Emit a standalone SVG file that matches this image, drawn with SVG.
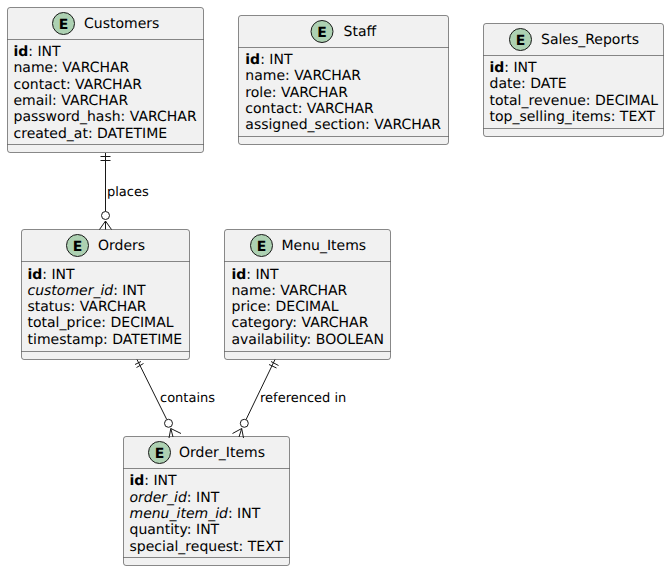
<svg xmlns="http://www.w3.org/2000/svg" width="669" height="571" viewBox="0 0 669 571">
<style>
text{font-family:"DejaVu Sans",sans-serif;font-size:14px;fill:#000;text-rendering:geometricPrecision}
.box{fill:#f1f1f1;stroke:#181818;stroke-width:.5}
.sep{stroke:#181818;stroke-width:.5;fill:none}
.spot{fill:#add1b2;stroke:#181818;stroke-width:1}
.e{font-size:14px;font-weight:bold;text-anchor:middle}
.c{fill:none;stroke:#181818;stroke-width:1}
.o{fill:#fff;stroke:#181818;stroke-width:1}
.l{font-size:13px}
.b{font-weight:bold}
.i{font-style:italic}
</style>
<g id="Customers">
<rect class="box" x="7.500" y="7.500" width="196" height="145" rx="2.500"/>
<path class="sep" d="M7.500 39.500H203.500M7.500 144.500H203.500"/>
<circle class="spot" cx="63.500" cy="23.500" r="11"/><text class="e" x="63.500" y="28.700">E</text>
<text x="84" y="28">Customers</text>
<text x="13.500" y="56"><tspan class="b">id</tspan>: INT</text>
<text x="13.500" y="72.300">name: VARCHAR</text>
<text x="13.500" y="88.600">contact: VARCHAR</text>
<text x="13.500" y="104.900">email: VARCHAR</text>
<text x="13.500" y="121.200">password_hash: VARCHAR</text>
<text x="13.500" y="137.500">created_at: DATETIME</text>
</g>
<g id="Staff">
<rect class="box" x="238.500" y="15.500" width="210" height="129" rx="2.500"/>
<path class="sep" d="M238.500 47.500H448.500M238.500 136.500H448.500"/>
<circle class="spot" cx="322" cy="31.500" r="11"/><text class="e" x="322" y="36.700">E</text>
<text x="343.500" y="36">Staff</text>
<text x="245.300" y="64"><tspan class="b">id</tspan>: INT</text>
<text x="245.300" y="80.300">name: VARCHAR</text>
<text x="245.300" y="96.600">role: VARCHAR</text>
<text x="245.300" y="112.900">contact: VARCHAR</text>
<text x="245.300" y="129.200">assigned_section: VARCHAR</text>
</g>
<g id="Sales_Reports">
<rect class="box" x="483.500" y="23.500" width="180" height="113" rx="2.500"/>
<path class="sep" d="M483.500 55.500H663.500M483.500 128.500H663.500"/>
<circle class="spot" cx="520.500" cy="39.500" r="11"/><text class="e" x="520.500" y="44.700">E</text>
<text x="541" y="44">Sales_Reports</text>
<text x="489.500" y="72"><tspan class="b">id</tspan>: INT</text>
<text x="489.500" y="88.300">date: DATE</text>
<text x="489.500" y="104.600">total_revenue: DECIMAL</text>
<text x="489.500" y="120.900">top_selling_items: TEXT</text>
</g>
<g id="Orders">
<rect class="box" x="21.500" y="229.500" width="168" height="130" rx="2.500"/>
<path class="sep" d="M21.500 261.500H189.500M21.500 351.500H189.500"/>
<circle class="spot" cx="77.500" cy="245.500" r="11"/><text class="e" x="77.500" y="250.700">E</text>
<text x="98" y="250">Orders</text>
<text x="27.500" y="278.500"><tspan class="b">id</tspan>: INT</text>
<text x="27.500" y="294.800"><tspan class="i">customer_id</tspan>: INT</text>
<text x="27.500" y="311.100">status: VARCHAR</text>
<text x="27.500" y="327.400">total_price: DECIMAL</text>
<text x="27.500" y="343.700">timestamp: DATETIME</text>
</g>
<g id="Menu_Items">
<rect class="box" x="224.500" y="229.500" width="166" height="130" rx="2.500"/>
<path class="sep" d="M224.500 261.500H390.500M224.500 351.500H390.500"/>
<circle class="spot" cx="261.500" cy="245.500" r="11"/><text class="e" x="261.500" y="250.700">E</text>
<text x="281.500" y="250">Menu_Items</text>
<text x="231.500" y="278.500"><tspan class="b">id</tspan>: INT</text>
<text x="231.500" y="294.800">name: VARCHAR</text>
<text x="231.500" y="311.100">price: DECIMAL</text>
<text x="231.500" y="327.400">category: VARCHAR</text>
<text x="231.500" y="343.700">availability: BOOLEAN</text>
</g>
<g id="Order_Items">
<rect class="box" x="123.500" y="436.500" width="166" height="129" rx="2.500"/>
<path class="sep" d="M123.500 468.500H289.500M123.500 557.500H289.500"/>
<circle class="spot" cx="159.500" cy="452.500" r="11"/><text class="e" x="159.500" y="457.700">E</text>
<text x="179" y="457">Order_Items</text>
<text x="129.500" y="485.300"><tspan class="b">id</tspan>: INT</text>
<text x="129.500" y="501.600"><tspan class="i">order_id</tspan>: INT</text>
<text x="129.500" y="517.900"><tspan class="i">menu_item_id</tspan>: INT</text>
<text x="129.500" y="534.200">quantity: INT</text>
<text x="129.500" y="550.500">special_request: TEXT</text>
</g>
<g id="connectors">
<path class="c" d="M105.500 153V211.500M100.500 156.500H110.500M100.500 160.500H110.500M105.500 221L99.500 229.500M105.500 221L111.500 229.500M105.500 221V229.500"/>
<circle class="o" cx="105.500" cy="215.500" r="4"/>
<path class="c" d="M137 359.500L166.800 419.600M135 364.500L141 361.500M136.500 367.500L143.500 363.500M170.800 428.500L169 438M170.800 428.500L181 433.500M170.800 428.500L173 437"/>
<circle class="o" cx="168.500" cy="423.300" r="4"/>
<path class="c" d="M275 359.500L246 419.700M269 364.500L276.500 368M271 361.500L278.500 365.500M241.700 428.500L232.500 433.500M241.700 428.500L243.500 438M241.700 428.500L239 437"/>
<circle class="o" cx="244.300" cy="423.300" r="4"/>
<text class="l" x="107" y="196">places</text>
<text class="l" x="160" y="402">contains</text>
<text class="l" x="260" y="402">referenced in</text>
</g>
</svg>
